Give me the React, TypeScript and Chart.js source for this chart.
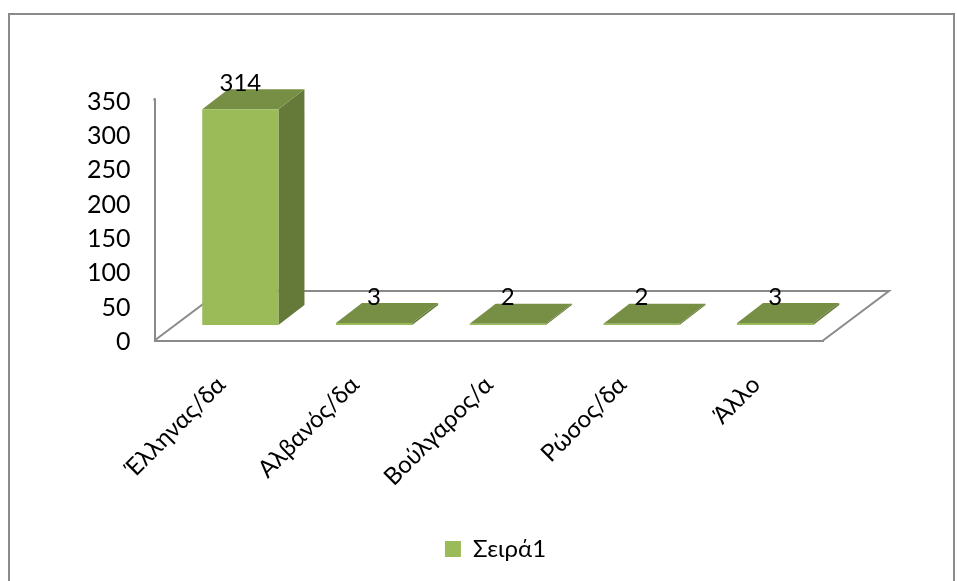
import React, { useEffect, useRef } from "react";
import { Chart, registerables } from "chart.js";

Chart.register(...registerables);

const categories = ["Έλληνας/δα", "Αλβανός/δα", "Βούλγαρος/α", "Ρώσος/δα", "Άλλο"];
const seriesName = "Σειρά1";
const values = [314, 3, 2, 2, 3];
const yTicks = [0, 50, 100, 150, 200, 250, 300, 350];

const FONT = "Lato, 'Open Sans', sans-serif";
const FRONT = "#9BBB59";
const TOP = "#778F44";
const SIDE = "#657A38";
const AXIS = "#8A8A8A";
const FLOOR_DX = 66;
const FLOOR_DY = -49.5;
const BAR_DX = 26;
const BAR_DY = -20;
const SHIFT_X = 19;
const SHIFT_Y = -15.5;

const plugin3d = {
  id: "plugin3d",
  afterLayout(chart: any) {
    const l = chart.legend;
    if (l) {
      l.left = 0;
      l.right = 991;
      l.top = 550 - l.height / 2;
      l.bottom = l.top + l.height;
    }
  },
  beforeDatasetsDraw(chart: any) {
    const { ctx, chartArea: a } = chart;
    ctx.save();
    ctx.strokeStyle = AXIS;
    ctx.lineWidth = 2;
    ctx.beginPath();
    ctx.moveTo(a.left, a.bottom);
    ctx.lineTo(a.left + FLOOR_DX, a.bottom + FLOOR_DY);
    ctx.lineTo(a.right + FLOOR_DX, a.bottom + FLOOR_DY);
    ctx.lineTo(a.right, a.bottom);
    ctx.stroke();
    ctx.beginPath();
    ctx.moveTo(a.left, a.top - 2);
    ctx.lineTo(a.left, a.top + 1);
    ctx.stroke();
    ctx.restore();

    ctx.save();
    ctx.translate(SHIFT_X, SHIFT_Y);
    chart.getDatasetMeta(0).data.forEach((el: any) => {
      const x0 = el.x - el.width / 2;
      const x1 = el.x + el.width / 2;
      ctx.fillStyle = SIDE;
      ctx.beginPath();
      ctx.moveTo(x1, el.y);
      ctx.lineTo(x1 + BAR_DX, el.y + BAR_DY);
      ctx.lineTo(x1 + BAR_DX, el.base + BAR_DY);
      ctx.lineTo(x1, el.base);
      ctx.closePath();
      ctx.fill();
      ctx.fillStyle = TOP;
      ctx.beginPath();
      ctx.moveTo(x0, el.y);
      ctx.lineTo(x0 + BAR_DX, el.y + BAR_DY);
      ctx.lineTo(x1 + BAR_DX, el.y + BAR_DY);
      ctx.lineTo(x1, el.y);
      ctx.closePath();
      ctx.fill();
    });
  },
  afterDatasetsDraw(chart: any) {
    const { ctx } = chart;
    ctx.restore();
    ctx.save();
    ctx.fillStyle = "#000";
    ctx.font = `24px ${FONT}`;
    ctx.textAlign = "center";
    ctx.textBaseline = "middle";
    chart.getDatasetMeta(0).data.forEach((el: any, i: number) => {
      ctx.fillText(String(values[i]), el.x + SHIFT_X, el.y + SHIFT_Y - 26);
    });
    ctx.restore();
  },
};

export default function App() {
  const ref = useRef<HTMLCanvasElement>(null);
  useEffect(() => {
    const chart = new Chart(ref.current!, {
      type: "bar",
      data: {
        labels: categories,
        datasets: [
          {
            label: seriesName,
            data: values,
            backgroundColor: FRONT,
            barPercentage: 1,
            categoryPercentage: 0.57,
          },
        ],
      },
      options: {
        responsive: false,
        animation: false,
        devicePixelRatio: 1,
        layout: { padding: { top: 100, right: 134, left: 0, bottom: 0 } },
        plugins: {
          tooltip: { enabled: false },
          legend: {
            position: "bottom",
            labels: {
              color: "#000",
              font: { family: FONT, size: 24 },
              boxWidth: 16,
              boxHeight: 16,
              padding: 8,
            },
          },
        },
        scales: {
          x: {
            grid: { display: false, drawTicks: false },
            border: { display: true, color: AXIS, width: 2 },
            ticks: {
              color: "#000",
              font: { family: FONT, size: 24 },
              minRotation: 45,
              maxRotation: 45,
              padding: 30,
              autoSkip: false,
            },
            afterFit(scale: any) {
              const lh = scale.chart.legend ? scale.chart.legend.height : 0;
              scale.height = 581 - 340.5 - lh;
            },
          },
          y: {
            min: 0,
            max: 350,
            afterBuildTicks(scale: any) {
              scale.ticks = yTicks.map((value) => ({ value }));
            },
            grid: { display: false, drawTicks: false },
            border: { display: true, color: AXIS, width: 2 },
            ticks: {
              color: "#000",
              font: { family: FONT, size: 25 },
              padding: 24,
              labelOffset: 1.5,
            },
            afterFit(scale: any) {
              scale.width = 154.5;
            },
          },
        },
      } as any,
      plugins: [plugin3d],
    });
    return () => chart.destroy();
  }, []);
  return (
    <div style={{ position: "absolute", left: 0, top: 0, width: 957, height: 581, overflow: "hidden", background: "#fff" }}>
      <div
        style={{
          position: "absolute",
          left: 8,
          top: 13,
          width: 943,
          height: 620,
          border: "2.5px solid #8A8A8A",
          boxSizing: "content-box",
        }}
      />
      <canvas ref={ref} width={957} height={581} style={{ position: "absolute", left: 0, top: 0, display: "block" }} />
    </div>
  );
}
